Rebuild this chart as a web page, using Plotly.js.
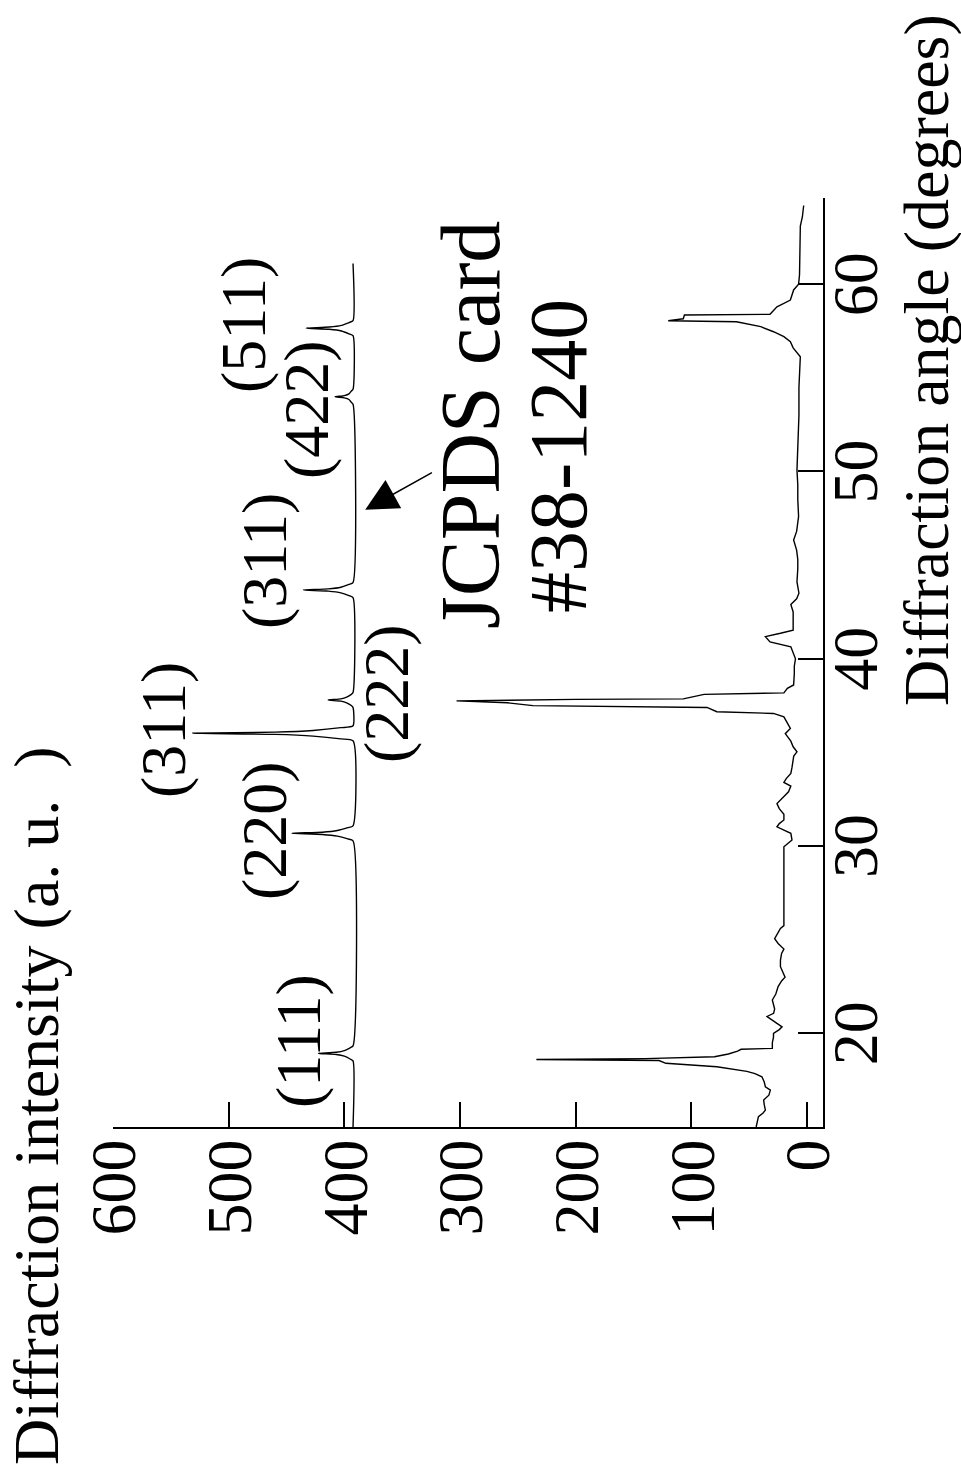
<!DOCTYPE html>
<html>
<head>
<meta charset="utf-8">
<script src="https://cdn.plot.ly/plotly-3.0.1.min.js"></script>
<style>
html, body { margin:0; padding:0; width:961px; height:1473px; overflow:hidden; background:#fff; }
#wrap { position:absolute; left:0; top:0; width:1473px; height:961px;
        transform-origin:0 0; transform:rotate(-90deg) translateX(-1473px); }
#chart { width:1473px; height:961px; }
</style>
</head>
<body>
<div id="wrap"><div id="chart"></div></div>
<script>
// Measured pattern (angle in degrees, intensity a.u.)
const measAngle = [15.0,15.3,15.55,15.75,15.9,16.2,16.44,16.7,16.97,17.15,17.4,17.68,17.85,17.97,18.04,18.22,18.4,18.55,18.6,18.65,18.75,18.9,19.05,19.15,19.2,19.5,19.8,20.0,20.2,20.35,20.53,20.7,20.9,21.07,21.3,21.78,22.1,22.5,22.8,23.0,23.3,23.56,23.9,24.27,24.5,24.8,25.05,25.3,25.6,25.75,27.0,28.5,29.96,30.32,30.68,30.85,31.03,31.2,31.39,31.7,32.0,32.27,32.63,32.9,33.2,33.4,33.6,33.88,34.2,34.5,34.8,35.03,35.3,35.6,36.0,36.28,36.6,36.9,37.08,37.17,37.4,37.45,37.5,37.65,37.75,37.83,37.86,38.1,38.15,38.18,38.42,38.6,39.2,39.6,40.0,40.3,40.64,40.9,41.18,41.36,41.53,42.0,42.5,42.9,43.2,43.5,44.1,44.8,45.3,45.8,46.34,46.8,47.2,47.6,48.5,49.3,50.07,51.0,51.85,53.0,54.5,55.5,56.12,56.6,56.93,57.2,57.46,57.73,57.99,58.05,58.15,58.35,58.39,58.79,59.15,59.69,60.0,60.5,61.3,61.82,62.5,63.1,63.6,64.2];
const measIntensity = [44,43,42,38,36,37,37.5,33,31.7,36,37,39,45,52,60,78,122,128,234,140,80,68,60,57,30,30,29,29,24,21.6,26,30,34.6,28.9,28,30,27,25,22,19,21,23,23,22,20,25,28,26,23,20,20,20,20,13,14,20,26,24,20,20,24,26,20,16,14,20,18,14,13,12,11.5,8.7,12,14,18.8,14.4,17,20,29,78,86.5,160,237,259,303,200,107,89,30,20,17,11.6,11,11,10,12,14,32,36,23,12,12,12,14,9,7,8.7,8,8,9,11.6,9,8,7.3,8,8,8.7,8,7.3,7,7,6.4,5.8,12,14.4,20,29,40,61,120,107,106,32,26,14.4,11.6,7.3,6.5,6.4,5.8,6,5.8,4,2.9];

// JCPDS card #38-1240 reference pattern (offset)
const refAngle = [15.0,
  18.53,18.63,18.78,18.87,18.93,18.99,19.08,19.23,19.33,
  30.28,30.38,30.53,30.62,30.68,30.74,30.83,30.98,31.08,
  35.62,35.72,35.87,35.96,36.02,36.08,36.17,36.32,36.42,
  37.4,37.5,37.65,37.74,37.8,37.86,37.95,38.1,38.2,
  43.27,43.37,43.52,43.61,43.67,43.73,43.82,43.97,44.07,
  53.59,53.69,53.84,53.93,53.99,54.05,54.14,54.29,54.39,
  57.25,57.35,57.5,57.59,57.65,57.71,57.8,57.95,58.05,
  61.1];
const refIntensity = [392.5,
  392.5,395,400,407,422.5,407,400,395,392.5,
  392.5,397,406,419,445.5,419,406,397,392.5,
  392.5,403,427,460,531,460,427,403,392.5,
  392.5,394,398,403,414,403,398,394,392.5,
  392.5,396,403,414,435.5,414,403,396,392.5,
  392.5,394,396,400,408,400,396,394,392.5,
  392.5,396,402.5,413,433,413,402.5,396,392.5,
  392.5];

// Miller index labels
const peakLabels = ["(111)","(220)","(311)","(222)","(311)","(422)","(511)"];
const labelAngle = [19.6,30.85,36.19,38.15,45.2,53.33,57.82];
const labelIntensity = [440,468.6,556.6,363.3,468.6,432.5,487.4];

const angleTicks = [20,30,40,50,60];
const intensityTicks = [0,100,200,300,400,500,600];

const FONT = '"Liberation Serif", "Times New Roman", serif';

const traces = [
  {x: measAngle, y: measIntensity, type:'scatter', mode:'lines',
   line:{color:'#000', width:1.4}, hoverinfo:'skip'},
  {x: refAngle, y: refIntensity, type:'scatter', mode:'lines',
   line:{color:'#000', width:1.4, shape:'spline', smoothing:0.6}, hoverinfo:'skip'}
];

const annotations = peakLabels.map((t,i)=>({
  x: labelAngle[i], y: labelIntensity[i], xref:'x', yref:'y', text:t,
  showarrow:false, xanchor:'center', yanchor:'middle',
  font:{family:FONT, size:64, color:'#000'}
}));
annotations.push(
  {x:52.5, y:291, xref:'x', yref:'y', text:'JCPDS card', showarrow:false,
   xanchor:'center', yanchor:'middle', font:{family:FONT, size:84, color:'#000'}},
  {x:50.81, y:215, xref:'x', yref:'y', text:'#38-1240', showarrow:false,
   xanchor:'center', yanchor:'middle', font:{family:FONT, size:82, color:'#000'}},
  {x:47.95, y:382, xref:'x', yref:'y', ax:49.98, ay:323, axref:'x', ayref:'y',
   text:'', showarrow:true, arrowhead:2, arrowsize:4.3, arrowwidth:1.5, arrowcolor:'#000'},
  {x:-0.366, y:1.1076, xref:'paper', yref:'paper', text:'Diffraction intensity (a. u.  )',
   showarrow:false, xanchor:'left', yanchor:'middle', font:{family:FONT, size:64, color:'#000'}},
  {x:1.2007, y:-0.146, xref:'paper', yref:'paper', text:'Diffraction angle (degrees)',
   showarrow:false, xanchor:'right', yanchor:'middle', font:{family:FONT, size:64, color:'#000'}}
);

const layout = {
  width:1473, height:961,
  margin:{l:346.3, r:198.3, t:113.3, b:138.3},
  paper_bgcolor:'#fff', plot_bgcolor:'#fff',
  showlegend:false,
  xaxis:{range:[15,64.6], tickvals:angleTicks, ticktext:angleTicks.map(String),
    showline:true, linecolor:'#000', linewidth:1.6, mirror:false,
    ticks:'inside', ticklen:25, tickwidth:2, tickcolor:'#000',
    showgrid:false, zeroline:false, ticklabelstandoff:-24,
    tickfont:{family:FONT, size:64, color:'#000'}},
  yaxis:{range:[-13.8,600], tickvals:intensityTicks, ticktext:intensityTicks.map(String),
    showline:true, linecolor:'#000', linewidth:1.6, mirror:false,
    ticks:'inside', ticklen:25, tickwidth:2, tickcolor:'#000',
    showgrid:false, zeroline:false, ticklabelstandoff:-2,
    tickfont:{family:FONT, size:64, color:'#000'}},
  annotations: annotations
};

Plotly.newPlot('chart', traces, layout, {staticPlot:true, displayModeBar:false});
</script>
</body>
</html>
